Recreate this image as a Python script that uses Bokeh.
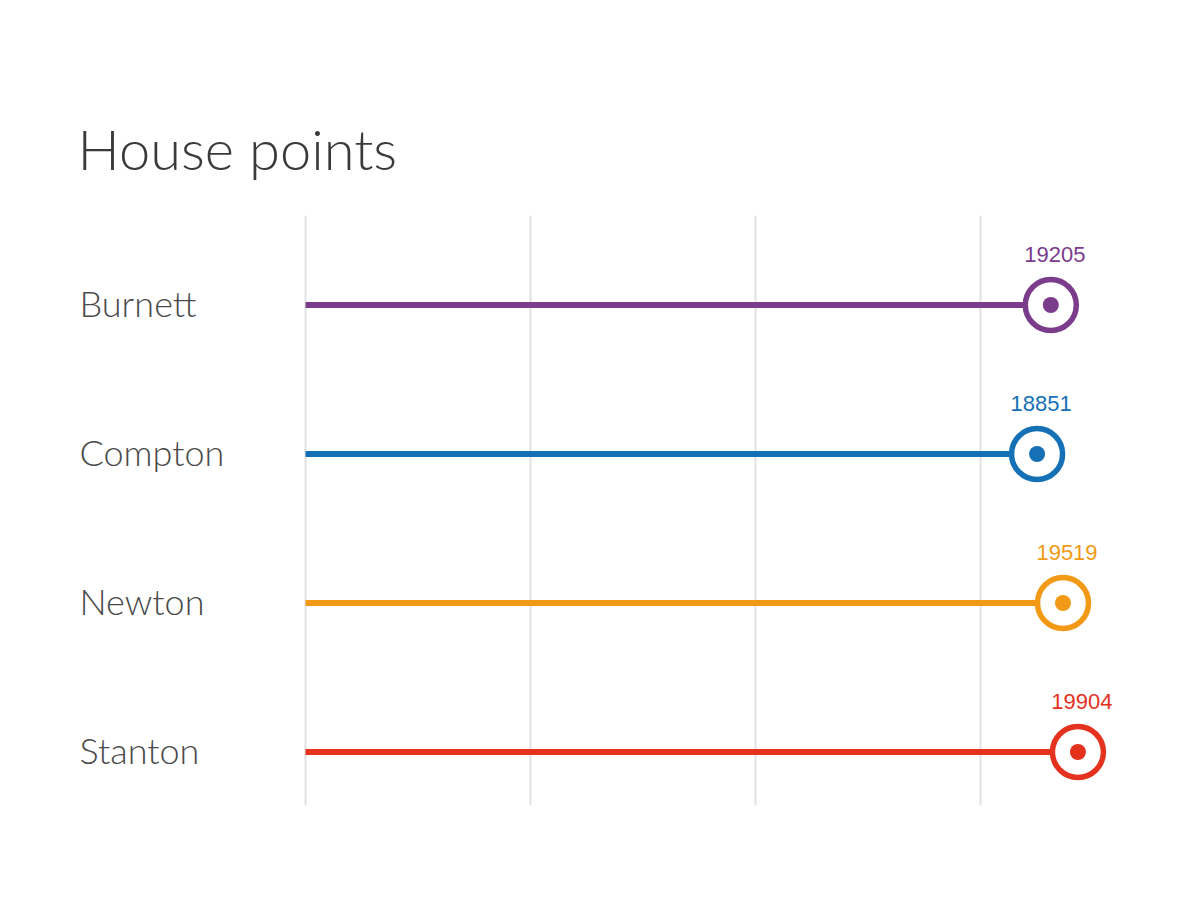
from bokeh.plotting import figure
from bokeh.models import ColumnDataSource, FixedTicker, Range1d
from bokeh.core.properties import value
from bokeh.embed import file_html
from bokeh.resources import INLINE

# ---- data ----
houses = ["Burnett", "Compton", "Newton", "Stanton"]
points = [19205, 18851, 19519, 19904]
colors = ["#7b3c8c", "#1570b6", "#f29a16", "#e4321f"]
grid_values = [0, 5800, 11600, 17400]

ypos = [len(houses) - 1 - i for i in range(len(houses))]
src = ColumnDataSource(dict(
    house=houses,
    pts=points,
    lbl=[str(v) for v in points],
    y=ypos,
    zero=[0] * len(houses),
    color=colors,
))

XS, XE = -7653, 22856
p = figure(width=1192, height=892, output_backend="svg", toolbar_location=None,
           x_range=Range1d(XS, XE), y_range=Range1d(-0.359, 3.6007),
           min_border_left=8, min_border_right=0, min_border_top=215,
           min_border_bottom=87)
p.outline_line_color = None
p.background_fill_color = "white"
p.border_fill_color = "white"
p.xaxis.visible = False
p.yaxis.visible = False
p.ygrid.grid_line_color = None
p.xgrid.ticker = FixedTicker(ticks=grid_values)
p.xgrid.grid_line_color = "#e2e2e2"
p.xgrid.grid_line_width = 2

p.title.text = "House points"
p.title.text_font = "Lato Light"
p.title.text_font_size = "56px"
p.title.text_font_style = "normal"
p.title.text_color = "#3a3a3a"
p.title.align = "left"
p.title.offset = 69
p.title.standoff = 67

# lollipop stems
p.segment(x0="zero", y0="y", x1="pts", y1="y", source=src, line_color="color",
          line_width=6)
# rings
p.scatter(x="pts", y="y", source=src, marker="circle", size=51,
          fill_color="white", line_color="color", line_width=5.5)
# inner dots
p.scatter(x="pts", y="y", source=src, marker="circle", size=16,
          fill_color="color", line_color=None)
# value labels
p.text(x="pts", y="y", text="lbl", source=src, text_color="color",
       text_font=value("Liberation Sans"), text_font_size="22px",
       text_align="center", text_baseline="alphabetic",
       x_offset=4, y_offset=-51)
# category labels
p.text(x=XS, y="y", text="house", source=src, text_color="#4a4a4a",
       text_font=value("Lato Light"), text_font_size="36px",
       text_align="left", text_baseline="middle", x_offset=71, y_offset=-2)

open("out.html", "w").write(file_html(p, INLINE))
